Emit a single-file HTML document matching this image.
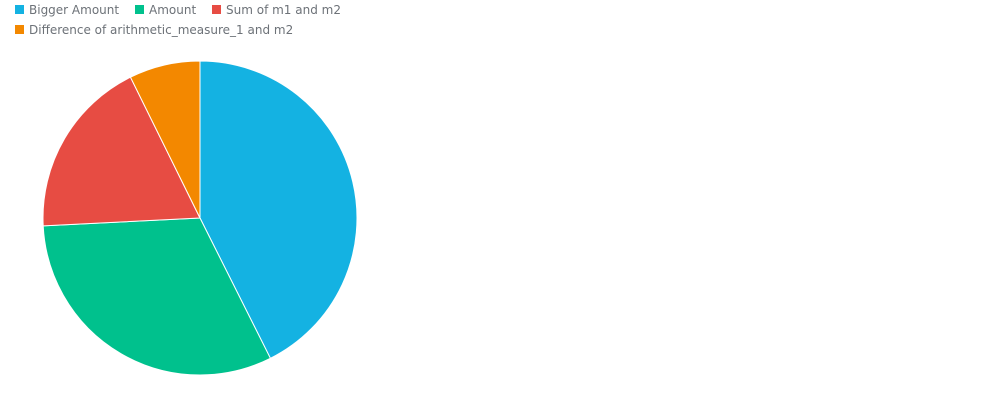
<!DOCTYPE html>
<html><head><meta charset="utf-8"><style>
html,body{margin:0;padding:0;background:#fff;width:1008px;height:400px;overflow:hidden}
.leg{position:absolute;font-family:"DejaVu Sans","Liberation Sans",sans-serif;font-size:12px;color:#6d7278;white-space:nowrap;line-height:14px}
.sw{display:inline-block;width:9px;height:9px;margin-right:5px;vertical-align:0px}
</style></head><body>
<div class="leg" style="left:15px;top:3px"><span class="sw" style="background:#14b2e2"></span>Bigger Amount</div>
<div class="leg" style="left:135px;top:3px"><span class="sw" style="background:#00c18d"></span>Amount</div>
<div class="leg" style="left:212px;top:3px"><span class="sw" style="background:#e74c43"></span>Sum of m1 and m2</div>
<div class="leg" style="left:15px;top:23px"><span class="sw" style="background:#f38800"></span>Difference of arithmetic_measure_1 and m2</div>
<svg id="chart" width="1008" height="400" style="position:absolute;left:0;top:0;pointer-events:none"></svg>
<script>
const categories=["Bigger Amount","Amount","Sum of m1 and m2","Difference of arithmetic_measure_1 and m2"];
const values=[42.6,31.6,18.5,7.3];
const colors=["#14b2e2","#00c18d","#e74c43","#f38800"];
const svg=document.getElementById('chart');
const cx=200,cy=218,r=157;
const total=values.reduce((a,b)=>a+b,0);
let a0=0;
function pt(a){return [cx+r*Math.sin(a),cy-r*Math.cos(a)];}
values.forEach((v,i)=>{
  const a1=a0+v/total*2*Math.PI;
  const [x0,y0]=pt(a0),[x1,y1]=pt(a1);
  const p=document.createElementNS('http://www.w3.org/2000/svg','path');
  p.setAttribute('d',`M${cx},${cy}L${x0},${y0}A${r},${r} 0 ${a1-a0>Math.PI?1:0} 1 ${x1},${y1}Z`);
  p.setAttribute('fill',colors[i]);
  p.setAttribute('stroke','#fff');
  p.setAttribute('stroke-width','1');
  
  
  svg.appendChild(p);
  a0=a1;
});
</script>
</body></html>
